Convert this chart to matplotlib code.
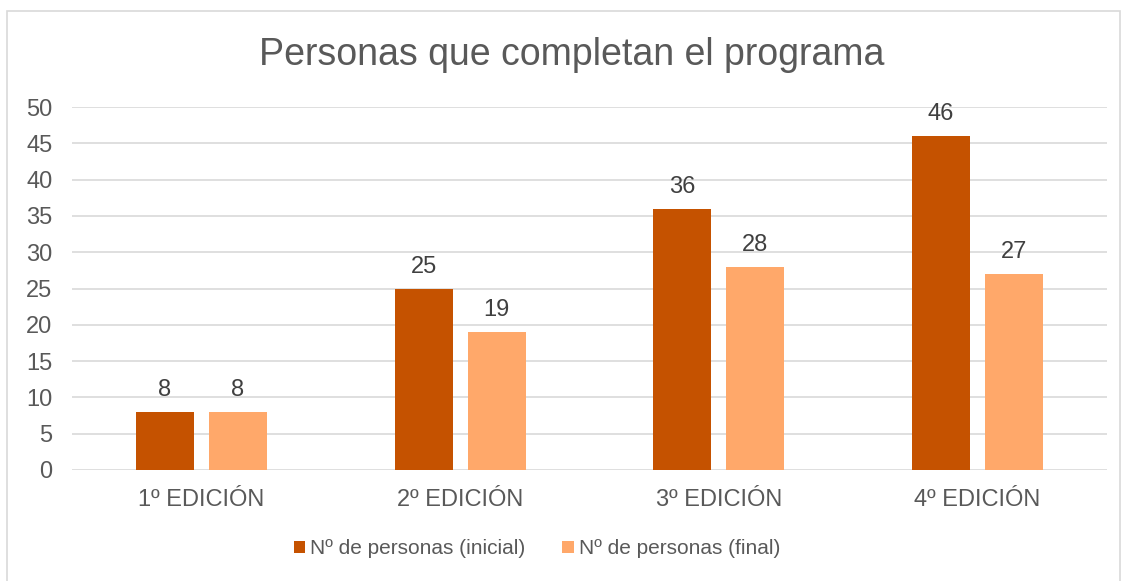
import matplotlib.pyplot as plt
import numpy as np
from matplotlib.patches import Rectangle

plt.rcParams['font.family'] = ['Liberation Sans', 'DejaVu Sans']

categories = ['1º EDICIÓN', '2º EDICIÓN', '3º EDICIÓN', '4º EDICIÓN']
inicial = [8, 25, 36, 46]
final = [8, 19, 28, 27]
series_names = ['Nº de personas (inicial)', 'Nº de personas (final)']

gray = '#595959'
c_ini = '#C55200'
c_fin = '#FFA86A'

fig = plt.figure(figsize=(11.28, 5.81), dpi=100)
W, H = 1128, 581
ax = fig.add_axes([72 / W, 1 - 470 / H, 1035 / W, 363 / H])

# border around the chart
fig.patches.append(Rectangle((7 / W, -0.01), 1113 / W, 1 - 11 / H + 0.01,
                             transform=fig.transFigure, fill=False,
                             edgecolor='#d9d9d9', linewidth=1.2))

x = np.arange(len(categories))
w = 0.224
off = 0.141
b1 = ax.bar(x - off, inicial, w, color=c_ini, label=series_names[0], zorder=3)
b2 = ax.bar(x + off, final, w, color=c_fin, label=series_names[1], zorder=3)

for bars in (b1, b2):
    for r in bars:
        ax.text(r.get_x() + r.get_width() / 2, r.get_height() + 1.5,
                f'{int(r.get_height())}', ha='center', va='bottom',
                fontsize=17, color='#404040')

ax.set_xlim(-0.5, 3.5)
ax.set_ylim(0, 50)
ax.set_yticks(range(0, 51, 5))
ax.set_xticks(x)
ax.set_xticklabels(categories)
ax.tick_params(axis='both', length=0, labelsize=17, labelcolor=gray)
ax.tick_params(axis='y', pad=14)
ax.tick_params(axis='x', pad=14)
ax.grid(axis='y', color='#d9d9d9', linewidth=1.2, zorder=0)
for s in ax.spines.values():
    s.set_visible(False)

fig.text(572 / W, 1 - 55 / H, 'Personas que completan el programa',
         ha='center', va='center', fontsize=27, color=gray)

fig.legend(handles=[b1, b2], loc='center', bbox_to_anchor=(537 / W, 1 - 549 / H),
           ncol=2, frameon=False, fontsize=15, labelcolor=gray,
           handlelength=0.53, handleheight=0.53, handletextpad=0.25,
           columnspacing=1.78, borderpad=0)

fig.savefig('out.png', dpi=100)
